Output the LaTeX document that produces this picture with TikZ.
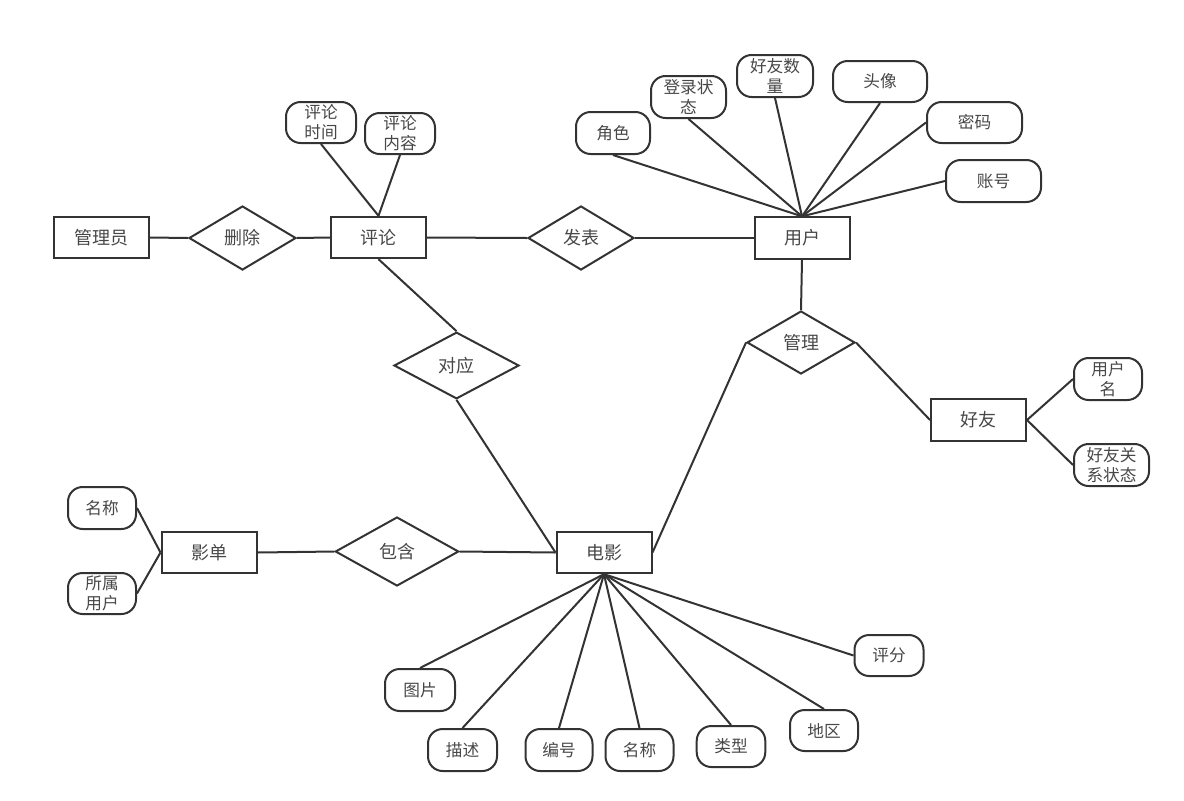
\documentclass[tikz,border=0pt]{standalone}
\usepackage{fontspec}
\setmainfont{Noto Sans CJK SC}
\usetikzlibrary{shapes.geometric}
\definecolor{ink}{HTML}{333333}
\definecolor{txt}{HTML}{474747}
\begin{document}
\begin{tikzpicture}[x=0.75pt,y=-0.75pt,
  every node/.style={text=txt,inner sep=0pt,line width=1.5pt,draw=ink},
  ent/.style={rectangle,minimum width=71.25pt,minimum height=31pt,font=\fontsize{13.5pt}{16pt}\selectfont},
  rel/.style={diamond,font=\fontsize{13.5pt}{16pt}\selectfont},
  attr/.style={rectangle,rounded corners=11pt,align=center,font=\fontsize{12.5pt}{15pt}\selectfont},
  link/.style={draw=ink,line width=1.5pt}]
\useasboundingbox (0,0) rectangle (1184,800);
% entities
\node[ent] (admin) at (101.5,237.5) {管理员};
\node[ent] (cmt) at (378.5,237.5) {评论};
\node[ent] (user) at (802,238) {用户};
\node[ent] (friend) at (978.5,420) {好友};
\node[ent] (list) at (209,552.5) {影单};
\node[ent] (movie) at (604,552.5) {电影};
% relations
\node[rel,minimum width=80.25pt,minimum height=48pt] (del) at (242.5,238) {删除};
\node[rel,minimum width=79.5pt,minimum height=48pt] (pub) at (581,238) {发表};
\node[rel,minimum width=93.75pt,minimum height=50pt] (corr) at (456.5,365.5) {对应};
\node[rel,minimum width=81pt,minimum height=47.25pt] (mng) at (801,342.5) {管理};
\node[rel,minimum width=92.6pt,minimum height=51.75pt] (inc) at (397,551.5) {包含};
% attributes of 评论
\node[attr,minimum width=52.5pt,minimum height=30.75pt] (ctime) at (321,122.5) {评论\\时间};
\node[attr,minimum width=52.5pt,minimum height=30.75pt] (ctext) at (400,133.5) {评论\\内容};
% attributes of 用户
\node[attr,minimum width=55.5pt,minimum height=31.5pt] (role) at (613,133) {角色};
\node[attr,minimum width=56.25pt,minimum height=31.5pt] (login) at (688.5,97) {登录状\\态};
\node[attr,minimum width=57pt,minimum height=31.5pt] (fcount) at (775,76) {好友数\\量};
\node[attr,minimum width=70.5pt,minimum height=30.75pt] (avatar) at (880,81.5) {头像};
\node[attr,minimum width=71.25pt,minimum height=30.75pt] (pwd) at (974.5,122.5) {密码};
\node[attr,minimum width=71.25pt,minimum height=31.5pt] (acct) at (993.5,181) {账号};
% attributes of 好友
\node[attr,minimum width=51pt,minimum height=31.5pt] (uname) at (1108,379) {用户\\名};
\node[attr,minimum width=56.25pt,minimum height=31.5pt] (fstate) at (1111.5,465) {好友关\\系状态};
% attributes of 影单
\node[attr,minimum width=51pt,minimum height=31.5pt] (lname) at (102,508) {名称};
\node[attr,minimum width=51pt,minimum height=30.75pt] (lowner) at (102,593.5) {所属\\用户};
% attributes of 电影
\node[attr,minimum width=52.5pt,minimum height=31.5pt] (pic) at (420,690) {图片};
\node[attr,minimum width=51.75pt,minimum height=31.5pt] (desc) at (462.5,750) {描述};
\node[attr,minimum width=50.25pt,minimum height=31.5pt] (mid) at (559,750) {编号};
\node[attr,minimum width=51pt,minimum height=31.5pt] (mname) at (639.5,750) {名称};
\node[attr,minimum width=51.4pt,minimum height=30.75pt] (mtype) at (731,746.5) {类型};
\node[attr,minimum width=51pt,minimum height=30.75pt] (region) at (824,730.5) {地区};
\node[attr,minimum width=51.75pt,minimum height=30.75pt] (score) at (889,655.5) {评分};
% connectors
\draw[link] (admin.east) -- (del.west);
\draw[link] (del.east) -- (cmt.west);
\draw[link] (cmt.east) -- (pub.west);
\draw[link] (pub.east) -- (user.west);
\draw[link] (ctime.south) -- (cmt.north);
\draw[link] (ctext.south) -- (cmt.north);
\foreach \a in {role,login,fcount,avatar}{\draw[link] (\a.south) -- (user.north);}
\draw[link] (pwd.west) -- (user.north);
\draw[link] (acct.west) -- (user.north);
\draw[link] (user.south) -- (mng.north);
\draw[link] (mng.east) -- (friend.west);
\draw[link] (mng.west) -- (movie.east);
\draw[link] (friend.east) -- (uname.west);
\draw[link] (friend.east) -- (fstate.west);
\draw[link] (cmt.south) -- (corr.north);
\draw[link] (corr.south) -- (movie.west);
\draw[link] (lname.east) -- (list.west);
\draw[link] (lowner.east) -- (list.west);
\draw[link] (list.east) -- (inc.west);
\draw[link] (inc.east) -- (movie.west);
\foreach \a in {pic,desc,mid,mname,mtype,region}{\draw[link] (movie.south) -- (\a.north);}
\draw[link] (movie.south) -- (score.west);
\end{tikzpicture}
\end{document}
